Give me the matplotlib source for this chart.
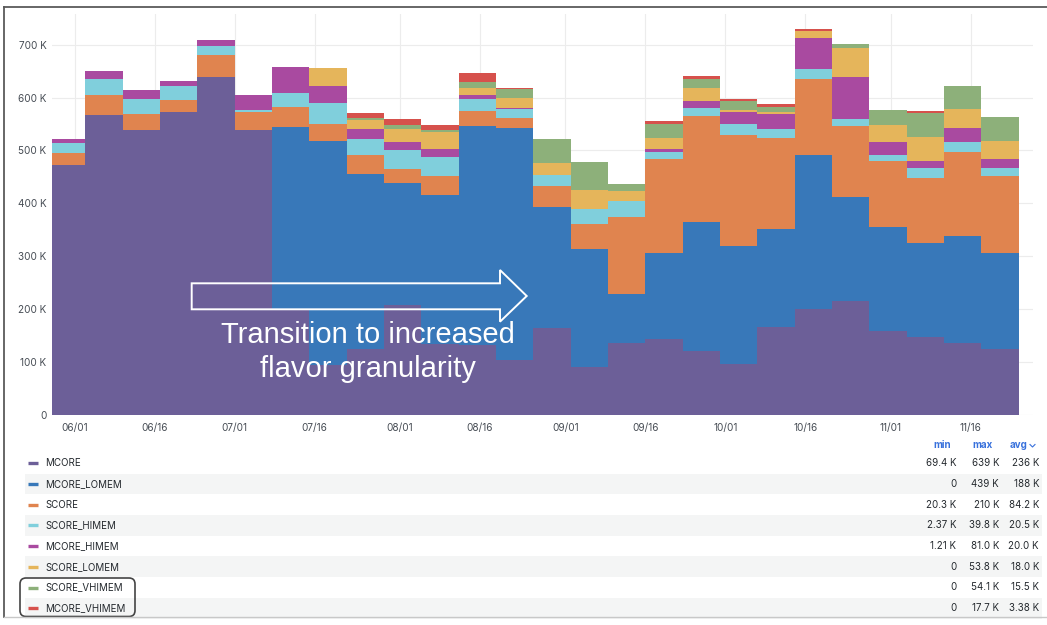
import numpy as np
import pandas as pd
import matplotlib
matplotlib.use('Agg')
import matplotlib.pyplot as plt
import matplotlib.dates as mdates
import matplotlib.transforms as mtransforms
from matplotlib.patches import Polygon, FancyBboxPatch, Rectangle
from matplotlib.lines import Line2D

# weekly buckets (thousands of cores)
weeks = pd.date_range('2024-05-27', periods=26, freq='7D')

names = ['MCORE', 'MCORE_LOMEM', 'SCORE', 'SCORE_HIMEM', 'MCORE_HIMEM',
         'SCORE_LOMEM', 'SCORE_VHIMEM', 'MCORE_VHIMEM']

mcore = [473, 567, 538, 573, 639, 538, 198, 95, 125, 208, 135, 132, 104,
         165, 91, 137, 143, 121, 96, 167, 200, 216, 159, 148, 137, 124]
mcore_lomem = [0, 0, 0, 0, 0, 0, 347, 423, 331, 231, 281, 415, 438,
               229, 223, 92, 164, 244, 224, 185, 291, 197, 197, 178, 202, 182]
score = [22, 38, 31, 22, 41, 34, 37, 32, 36, 26, 36, 27, 19,
         39, 47, 146, 177, 201, 209, 172, 144, 133, 124, 122, 159, 145]
score_himem = [20, 31, 28, 26, 18, 5, 26, 40, 30, 35, 35, 23, 18,
               20, 28, 30, 14, 15, 22, 17, 19, 13, 11, 18, 18, 16]
mcore_himem = [6, 15, 17, 10, 10, 28, 50, 32, 19, 16, 16, 8, 2,
               0, 1.2, 0, 4, 13, 21, 28, 58, 80, 25, 15, 27, 17]
score_lomem = [0, 0, 0, 0, 0, 0, 0, 34, 16, 24, 32, 14, 19,
               23, 35, 18, 21, 25, 4, 3, 13, 54, 33, 45, 35, 33]
score_vhimem = [0, 0, 0, 0, 0, 0, 0, 0, 4.5, 8, 4, 10, 16.5,
                46, 53.5, 14, 27, 16, 17, 10, 1, 9, 27, 45, 44, 47]
mcore_vhimem = [0, 0, 0, 0, 0, 0, 0, 0, 8.5, 11, 9, 17.7, 2.4,
                0, 0, 0, 5, 5, 4.4, 5, 4, 0, 0, 3.7, 0, 0]

stat_min = ['69.4 K', '0', '20.3 K', '2.37 K', '1.21 K', '0', '0', '0']
stat_max = ['639 K', '439 K', '210 K', '39.8 K', '81.0 K', '53.8 K', '54.1 K', '17.7 K']
stat_avg = ['236 K', '188 K', '84.2 K', '20.5 K', '20.0 K', '18.0 K', '15.5 K', '3.38 K']

colors = ['#6c5f98', '#3878b9', '#e0844f', '#80cfdc', '#a94aa0',
          '#e5b55b', '#8db07a', '#d6514c']

layers = [mcore, mcore_lomem, score, score_himem, mcore_himem,
          score_lomem, score_vhimem, mcore_vhimem]

W, H = 1047, 625
plt.rcParams['font.family'] = ['Inter', 'DejaVu Sans']
fig = plt.figure(figsize=(W / 100, H / 100), dpi=100)
fig.patch.set_facecolor('white')

# pixel coords, origin top-left
px = mtransforms.Affine2D().scale(1 / W, -1 / H).translate(0, 1) + fig.transFigure


def fx(p):
    return p / W


def fy(p):
    return 1 - p / H


ax = fig.add_axes([fx(52), fy(415), fx(1033) - fx(52), fy(14) - fy(415)])
x = mdates.date2num(weeks)
bottom = np.zeros(len(weeks))
for vals, c in zip(layers, colors):
    v = np.array(vals, dtype=float)
    ax.bar(x, v, width=7, bottom=bottom, align='edge', color=c, linewidth=0, zorder=2)
    bottom += v

ax.set_xlim(mdates.date2num(pd.Timestamp('2024-05-27 18:00')),
            mdates.date2num(pd.Timestamp('2024-11-27 17:00')))
ax.set_ylim(0, 758)
ax.set_yticks(np.arange(0, 701, 100))
ax.set_yticklabels(['0'] + ['%d K' % v for v in range(100, 701, 100)])
ticks = pd.to_datetime(['2024-06-01', '2024-06-16', '2024-07-01', '2024-07-16',
                        '2024-08-01', '2024-08-16', '2024-09-01', '2024-09-16',
                        '2024-10-01', '2024-10-16', '2024-11-01', '2024-11-16'])
ax.set_xticks(mdates.date2num(ticks))
ax.xaxis.set_major_formatter(mdates.DateFormatter('%m/%d'))
ax.tick_params(length=0, labelsize=7.2, colors='#464c54')
ax.tick_params(axis='y', pad=4)
ax.tick_params(axis='x', pad=6)
for s in ax.spines.values():
    s.set_visible(False)
ax.grid(True, color='#ececec', linewidth=0.8, zorder=0)
ax.set_axisbelow(True)

# outer panel border: dark top/left, faint bottom
fig.add_artist(Line2D([4, 1047], [7, 7], transform=px, color='#5a5a5a', linewidth=1.3))
fig.add_artist(Line2D([4, 4], [7, 617], transform=px, color='#5a5a5a', linewidth=1.3))
fig.add_artist(Line2D([4, 1047], [617, 617], transform=px, color='#c8c8c8', linewidth=1.0))

# annotation arrow + text
arrow = Polygon([(191.7, 283.3), (500, 283.3), (500, 270), (526.7, 296),
                 (500, 321.7), (500, 309.3), (191.7, 309.3)], closed=True,
                fill=False, edgecolor='white', linewidth=1.4, transform=px)
fig.add_artist(arrow)
fig.text(368, 352, 'Transition to increased\nflavor granularity', transform=px,
         ha='center', va='center', color='white', fontsize=21,
         family=['Liberation Sans', 'DejaVu Sans'], linespacing=1.25)

# legend table
row0, dy = 463.3, 20.7
for i, name in enumerate(names):
    yy = row0 + i * dy
    if i % 2 == 1:
        fig.add_artist(Rectangle((25, yy - dy / 2), 1017, dy, transform=px,
                                 facecolor='#f4f5f5', edgecolor='none'))
    fig.add_artist(Line2D([27.5, 37.5], [yy, yy], transform=px, color=colors[i],
                          linewidth=2.4, solid_capstyle='butt'))
    fig.text(45.5, yy, name, transform=px, ha='left', va='center',
             fontsize=7, color='#24292e')
    fig.text(956.5, yy, stat_min[i], transform=px, ha='right', va='center',
             fontsize=7, color='#24292e')
    fig.text(999, yy, stat_max[i], transform=px, ha='right', va='center',
             fontsize=7, color='#24292e')
    fig.text(1039, yy, stat_avg[i], transform=px, ha='right', va='center',
             fontsize=7, color='#24292e')

hdr_y = 445.5
fig.text(951, hdr_y, 'min', transform=px, ha='right', va='center', fontsize=7,
         color='#3871dc', fontweight='bold')
fig.text(993, hdr_y, 'max', transform=px, ha='right', va='center', fontsize=7,
         color='#3871dc', fontweight='bold')
fig.text(1027, hdr_y, 'avg', transform=px, ha='right', va='center', fontsize=7,
         color='#3871dc', fontweight='bold')
fig.add_artist(Line2D([1030, 1032.5, 1035], [444.5, 447, 444.5], transform=px,
                      color='#3871dc', linewidth=0.8))

box = FancyBboxPatch((20, 578), 115, 38.5, boxstyle='round,pad=0,rounding_size=6',
                     transform=px, fill=False, edgecolor='#444444', linewidth=1.2)
fig.add_artist(box)

fig.savefig('out.png', dpi=100)
